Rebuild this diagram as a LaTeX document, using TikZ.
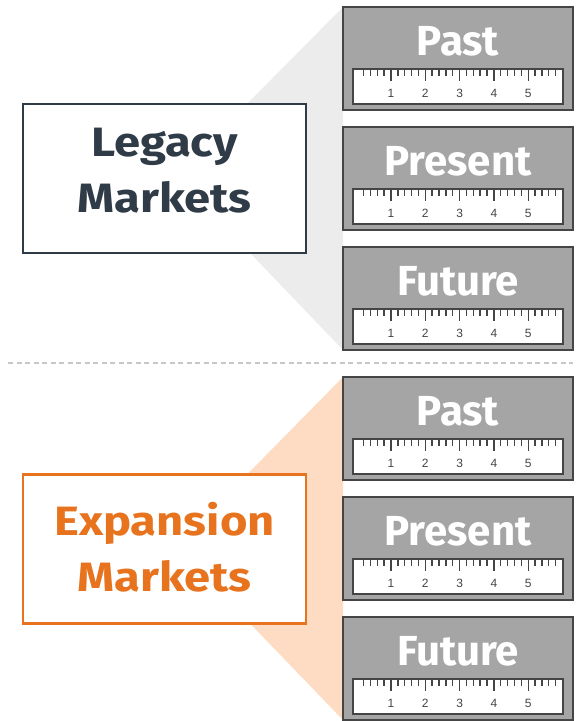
\documentclass[tikz,border=0pt]{standalone}
\usepackage{fontspec}
\setmainfont{Fira Sans}
\newfontfamily\widefont[FakeStretch=1.15]{Fira Sans}
\newfontfamily\rulerfont{Liberation Sans}
\usetikzlibrary{positioning,backgrounds}
\definecolor{slate}{HTML}{2F3B47}
\definecolor{tangerine}{HTML}{E8731E}
\definecolor{peach}{HTML}{FDDCC3}
\definecolor{fog}{HTML}{ECECEC}
\definecolor{steel}{HTML}{A5A5A5}
\definecolor{rim}{HTML}{454545}

% ruler along the bottom of a period box: \ruler{box}
\newcommand{\ruler}[1]{%
  \draw[rim, fill=white, line width=1.6pt] ([xshift=10pt,yshift=-62pt]#1.north west)
    rectangle ([xshift=-10pt,yshift=-97pt]#1.north east);
  \foreach \k in {-4,...,24} {
    \pgfmathsetmacro\len{mod(\k,5)==0 ? 12 : 7}
    \draw[rim, line width=1.4pt] ([xshift={48+(\k)*6.86},yshift=-62pt]#1.north west) -- ++(0,\len);
  }
  \foreach \n in {1,...,5}
    \node[anchor=base, inner sep=0pt, font=\rulerfont\fontsize{12}{12}\selectfont, text=rim]
      at ([xshift={48+(\n-1)*34.3},yshift=-90pt]#1.north west) {\n};
}

\begin{document}
\begin{tikzpicture}[x=1pt, y=-1pt,
  period/.style={rectangle, draw=rim, fill=steel, line width=2.5pt, outer sep=0pt,
    minimum width=230pt, minimum height=103pt, inner sep=0pt},
  periodlabel/.style={anchor=base, inner sep=0pt, text=white,
    font=\fontsize{42}{42}\selectfont\bfseries},
  market/.style={rectangle, fill=white, line width=2.5pt,
    minimum width=283pt, minimum height=149pt, inner sep=0pt},
  marketlabel/.style={anchor=base, inner sep=0pt,
    font=\widefont\fontsize{41}{41}\selectfont\bfseries}]
  \useasboundingbox (0,0) rectangle (579,721);

  % legacy markets
  \node[period] (lpast) at (458,58.5) {};
  \node[period, below=17pt of lpast] (lpresent) {};
  \node[period, below=17pt of lpresent] (lfuture) {};
  \node[market, draw=slate] (legacy) at (164.5,178.5) {};
  \node[marketlabel, text=slate] (legacy1) at ([yshift=-54pt]legacy.north) {Legacy};
  \node[marketlabel, text=slate] (legacy2) at ([yshift=-110pt]legacy.north) {Markets};

  % expansion markets
  \node[period] (epast) at (458,428.5) {};
  \node[period, below=17pt of epast] (epresent) {};
  \node[period, below=17pt of epresent] (efuture) {};
  \node[market, draw=tangerine] (expansion) at (164.5,549) {};
  \node[marketlabel, text=tangerine] (expansion1) at ([yshift=-62pt]expansion.north) {Expansion};
  \node[marketlabel, text=tangerine] (expansion2) at ([yshift=-118pt]expansion.north) {Markets};

  % labels and rulers
  \foreach \b/\t in {lpast/Past, lpresent/Present, lfuture/Future,
                     epast/Past, epresent/Present, efuture/Future} {
    \ruler{\b}
    \node[periodlabel] at ([yshift=-48pt]\b.north) {\t};
  }

  % fans behind the boxes
  \begin{scope}[on background layer]
    \fill[fog] ([xshift=-59pt]legacy.north east) -- (lpast.north west)
      -- (lfuture.south west) -- ([xshift=-56pt]legacy.south east) -- cycle;
    \fill[peach] ([xshift=-59pt]expansion.north east) -- (epast.north west)
      -- (efuture.south west) -- ([xshift=-56pt]expansion.south east) -- cycle;
  \end{scope}

  % divider
  \coordinate (dleft) at (8,363);
  \coordinate (dright) at (573,363);
  \draw[black!22, line width=1.5pt, dash pattern=on 5pt off 3.5pt] (dleft) -- (dright);
\end{tikzpicture}
\end{document}
